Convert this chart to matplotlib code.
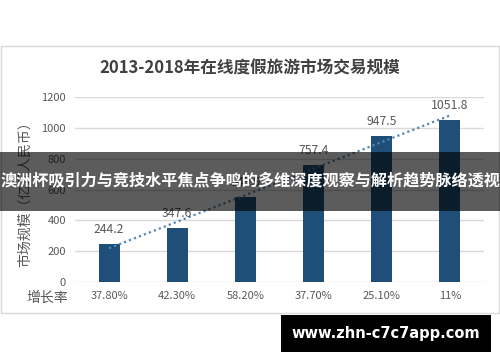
import matplotlib
matplotlib.use("Agg")
import matplotlib.pyplot as plt
import numpy as np
from matplotlib.patches import Rectangle

plt.rcParams['font.family'] = ['Noto Sans CJK SC', 'DejaVu Sans']

years = ["2013", "2014", "2015", "2016", "2017", "2018"]
values = [244.2, 347.6, 549.9, 757.4, 947.5, 1051.8]
growth = ["37.80%", "42.30%", "58.20%", "37.70%", "25.10%", "11%"]
yticks = [0, 200, 400, 600, 800, 1000, 1200]
title = "2013-2018年在线度假旅游市场交易规模"
ylabel = "市场规模（亿元人民币）"
row_label = "增长率"
banner = "澳洲杯吸引力与竞技水平焦点争鸣的多维深度观察与解析趋势脉络透视"
watermark = "www.zhn-c7c7app.com"

W, H = 500, 362
fig = plt.figure(figsize=(W / 100, H / 100), dpi=100)
fig.patch.set_facecolor("white")

def fx(px):
    return px / W

def fy(py):
    return 1 - py / H

# chart frame
fig.patches.append(Rectangle((fx(1), fy(313)), fx(498), (313 - 46) / H,
                             transform=fig.transFigure, facecolor="white",
                             edgecolor="#d9d9d9", lw=1, zorder=-5))

ax = fig.add_axes([fx(75), fy(281.7), fx(484 - 75), (281.7 - 97.3) / H])
ax.set_zorder(1)
ax.set_facecolor("none")
x = np.arange(len(values))
ax.bar(x, values, width=0.31, color="#1f4e79", zorder=3)

# linear trendline
coef = np.polyfit(x, values, 1)
ax.plot(x, np.polyval(coef, x), color="#4f87b8", lw=1.6,
        linestyle=(0, (1, 1.4)), zorder=4)

for xi, v in zip(x, values):
    ax.annotate(f"{v:.1f}", (xi, v), xytext=(0, 8), textcoords="offset points",
                ha="center", va="baseline", fontsize=8.8, color="#595959", zorder=5)

ax.set_xlim(-0.5, len(values) - 0.5)
ax.set_ylim(0, 1200)
ax.set_yticks(yticks)
ax.set_yticklabels([str(t) for t in yticks], fontsize=8, color="#595959")
ax.set_xticks(x)
ax.set_xticklabels(growth, fontsize=8, color="#595959")
ax.tick_params(axis="y", length=0, pad=6.5)
ax.tick_params(axis="x", length=0, pad=7)
ax.grid(axis="y", color="#d9d9d9", lw=1, zorder=0)
ax.set_axisbelow(True)
for s in ax.spines.values():
    s.set_visible(False)

fig.text(0.5, fy(68), title, ha="center", va="center", fontsize=12,
         fontweight="bold", color="#404040")
fig.text(fx(25), fy(191), ylabel, ha="center", va="center", rotation=90,
         fontsize=10, color="#595959")
fig.text(fx(47.5), fy(297.7), row_label, ha="center", va="center",
         fontsize=10, color="#595959")

# banner overlay
fig.patches.append(Rectangle((0, fy(210.7)), 1, (210.7 - 151.7) / H,
                             transform=fig.transFigure, facecolor="black",
                             alpha=0.64, edgecolor="none", zorder=10))
fig.text(0.5, fy(181), banner, ha="center", va="center", fontsize=11.6,
         fontweight="bold", color="white", zorder=11)

# watermark
fig.patches.append(Rectangle((fx(281), fy(352)), fx(210), 37 / H,
                             transform=fig.transFigure, facecolor="black",
                             edgecolor="none", zorder=10))
fig.text(fx(386), fy(333.5), watermark, ha="center", va="center",
         fontsize=10.5, fontweight="bold", color="white",
         family=["DejaVu Sans"], zorder=11)

fig.savefig("out.png", dpi=100)
